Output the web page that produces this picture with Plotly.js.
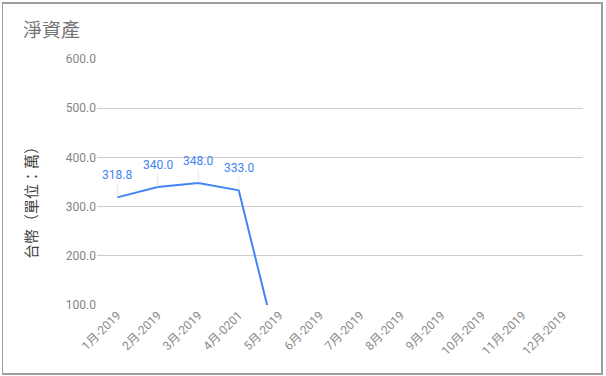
<!DOCTYPE html>
<html>
<head>
<meta charset="utf-8">
<script src="https://cdn.plot.ly/plotly-3.0.1.min.js"></script>
<style>
html,body{margin:0;padding:0;background:#fff;}
#wrap{position:relative;width:606px;height:376px;}
#chart{width:606px;height:376px;}
#frame{position:absolute;left:2px;top:2px;width:598px;height:369px;border:1px solid #9e9e9e;border-width:2px 2px 2px 1px;pointer-events:none;}
</style>
</head>
<body>
<div id="wrap"><div id="chart"></div><div id="frame"></div></div>
<script>
const categories = ["1月-2019","2月-2019","3月-2019","4月-0201","5月-2019","6月-2019","7月-2019","8月-2019","9月-2019","10月-2019","11月-2019","12月-2019"];
const netAssets = [318.8, 340.0, 348.0, 333.0, 0, null, null, null, null, null, null, null];
const labeledCount = 4;
const chartTitle = "淨資產";
const yTitle = "台幣（單位：萬）";

const blue = "#4285f4";
const fontFam = "Roboto, 'Noto Sans CJK TC', sans-serif";

const trace = {
  x: categories,
  y: netAssets,
  type: "scatter",
  mode: "lines",
  line: {color: blue, width: 2},
  connectgaps: false,
  hoverinfo: "skip"
};

const annotations = [];
for (let i = 0; i < labeledCount; i++) {
  annotations.push({
    x: categories[i], y: netAssets[i], xref: "x", yref: "y",
    text: netAssets[i].toFixed(1),
    showarrow: true, arrowhead: 0, arrowwidth: 0.8, arrowcolor: "#e0e0e0",
    ax: 0, ay: -22, standoff: 0, startstandoff: 0,
    font: {family: fontFam, size: 12, color: blue}
  });
}
// y-axis title, placed like the reference (slightly below the plot centre)
annotations.push({
  text: yTitle, xref: "paper", yref: "paper",
  x: (30 - 97) / 486, y: (305 - 199) / 246, xanchor: "center", yanchor: "middle",
  textangle: -90, showarrow: false,
  font: {family: "'Noto Sans CJK TC', sans-serif", size: 15, color: "#444"}
});

const layout = {
  width: 606, height: 376,
  margin: {l: 97, r: 23, t: 59, b: 71},
  paper_bgcolor: "#fff", plot_bgcolor: "#fff",
  showlegend: false,
  title: {text: chartTitle, x: 0, xref: "container", xanchor: "left", pad: {l: 23}, y: 0.918, yanchor: "middle",
          font: {family: "'Noto Sans CJK TC', Roboto, sans-serif", size: 19, color: "#757575"}},
  xaxis: {
    type: "category", categoryarray: categories, range: [-0.5, 11.5],
    tickangle: -45, showgrid: false, zeroline: false, showline: false, ticks: "",
    tickfont: {family: fontFam, size: 12, color: "#8a8a8a"}, fixedrange: true
  },
  yaxis: {
    range: [100, 600], dtick: 100, tick0: 0, tickformat: ".1f",
    showgrid: true, gridcolor: "#cccccc", gridwidth: 1, zeroline: false, showline: false, ticks: "",
    ticklen: 0, tickfont: {family: fontFam, size: 12, color: "#858585"},
    fixedrange: true
  },
  annotations: annotations
};

Plotly.newPlot("chart", [trace], layout, {displayModeBar: false, staticPlot: true});
</script>
</body>
</html>
